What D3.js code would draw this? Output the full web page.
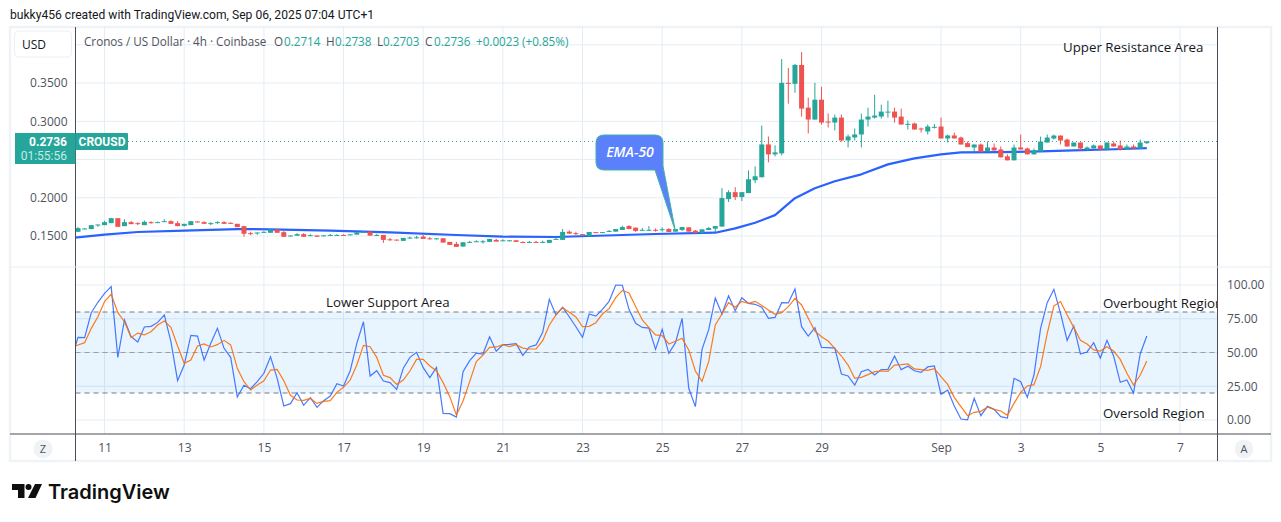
<!DOCTYPE html>
<html>
<head>
<meta charset="utf-8">
<script src="https://cdn.jsdelivr.net/npm/d3@7"></script>
<style>
  html, body { margin: 0; background: #fff; }
  svg { display: block; }
</style>
</head>
<body>
<svg id="chart" width="1281" height="522" font-family="'Open Sans', Roboto, sans-serif"></svg>
<script>
// candles, 4h bars, first one is 10 Aug
const candleOpen = [.1555,.1594,.1590,.1646,.1642,.1668,.1733,.1629,.1681,.1668,
  .1642,.1681,.1672,.1685,.1694,.1668,.1633,.1642,.1690,.1681,
  .1659,.1672,.1681,.1672,.1659,.1629,.1537,.1542,.1550,.1542,
  .1585,.1550,.1503,.1503,.1524,.1507,.1507,.1505,.1510,.1510,
  .1514,.1518,.1518,.1553,.1557,.1510,.1514,.1457,.1453,.1436,
  .1475,.1479,.1492,.1470,.1466,.1470,.1423,.1397,.1362,.1419,
  .1427,.1427,.1423,.1449,.1440,.1440,.1444,.1421,.1419,.1423,
  .1419,.1410,.1459,.1449,.1557,.1537,.1524,.1496,.1551,.1548,
  .1562,.1557,.1579,.1630,.1609,.1577,.1577,.1581,.1585,.1591,
  .1557,.1579,.1613,.1570,.1540,.1579,.1596,.1623,.1982,.2073,
  .2009,.2061,.2229,.2268,.2697,.2567,.2580,.3502,.3489,.3736,
  .3178,.3022,.3282,.2996,.2983,.3048,.2749,.2788,.2827,.3022,
  .3048,.3061,.3122,.3126,.3061,.2963,.2970,.2905,.2866,.2922,
  .2931,.2775,.2814,.2787,.2714,.2657,.2696,.2605,.2657,.2631,
  .2541,.2489,.2657,.2644,.2567,.2605,.2722,.2774,.2813,.2761,
  .2670,.2722,.2631,.2644,.2683,.2631,.2709,.2683,.2631,.2670,
  .2644,.2714];
const candleHigh = [.1616,.1603,.1642,.1650,.1698,.1733,.1733,.1720,.1698,.1681,
  .1703,.1694,.1690,.1720,.1707,.1694,.1659,.1694,.1690,.1694,
  .1681,.1694,.1694,.1681,.1659,.1629,.1555,.1546,.1563,.1585,
  .1585,.1568,.1507,.1537,.1537,.1524,.1507,.1509,.1527,.1522,
  .1522,.1522,.1548,.1562,.1557,.1527,.1514,.1474,.1453,.1475,
  .1492,.1501,.1514,.1488,.1470,.1470,.1423,.1423,.1418,.1436,
  .1444,.1449,.1462,.1462,.1457,.1444,.1444,.1431,.1436,.1436,
  .1440,.1449,.1483,.1592,.1574,.1557,.1524,.1553,.1551,.1551,
  .1579,.1591,.1635,.1643,.1609,.1604,.1630,.1600,.1613,.1604,
  .1591,.1617,.1613,.1579,.1587,.1617,.1630,.2125,.2099,.2138,
  .2073,.2359,.2411,.2944,.2801,.2684,.3814,.3697,.3749,.3905,
  .3308,.3502,.3450,.3100,.3087,.3087,.2827,.2905,.3100,.3178,
  .3347,.3217,.3269,.3178,.3165,.3009,.2983,.2918,.2957,.2965,
  .3048,.2827,.2853,.2800,.2735,.2696,.2709,.2735,.2709,.2670,
  .2567,.2696,.2826,.2657,.2644,.2800,.2826,.2826,.2813,.2774,
  .2722,.2722,.2670,.2696,.2683,.2722,.2735,.2748,.2696,.2696,
  .2761,.2738];
const candleLow = [.1555,.1590,.1590,.1620,.1642,.1668,.1620,.1629,.1655,.1642,
  .1642,.1659,.1672,.1685,.1659,.1629,.1624,.1642,.1686,.1659,
  .1642,.1659,.1659,.1659,.1616,.1490,.1511,.1516,.1546,.1542,
  .1542,.1490,.1494,.1503,.1490,.1498,.1490,.1500,.1501,.1501,
  .1501,.1518,.1518,.1553,.1505,.1501,.1410,.1436,.1440,.1436,
  .1466,.1466,.1462,.1453,.1453,.1414,.1384,.1358,.1362,.1414,
  .1423,.1401,.1423,.1427,.1431,.1440,.1423,.1410,.1410,.1410,
  .1410,.1410,.1453,.1449,.1531,.1514,.1520,.1496,.1548,.1548,
  .1557,.1557,.1579,.1591,.1553,.1566,.1566,.1557,.1557,.1553,
  .1557,.1566,.1557,.1540,.1531,.1579,.1548,.1623,.1944,.1970,
  .1957,.2061,.2190,.2268,.2463,.2541,.2554,.3230,.3373,.3061,
  .2840,.3022,.2957,.2918,.2879,.2736,.2658,.2749,.2658,.2931,
  .3035,.3035,.3048,.2983,.2957,.2892,.2892,.2853,.2827,.2905,
  .2775,.2723,.2775,.2696,.2662,.2597,.2597,.2605,.2618,.2528,
  .2489,.2489,.2631,.2567,.2567,.2605,.2722,.2761,.2696,.2670,
  .2670,.2618,.2618,.2644,.2631,.2618,.2670,.2618,.2631,.2644,
  .2644,.2703];
const candleClose = [.1603,.1598,.1642,.1650,.1681,.1733,.1620,.1681,.1655,.1659,
  .1685,.1672,.1681,.1694,.1659,.1629,.1659,.1694,.1686,.1659,
  .1668,.1681,.1659,.1659,.1616,.1529,.1533,.1546,.1554,.1585,
  .1542,.1490,.1507,.1524,.1490,.1511,.1490,.1509,.1514,.1514,
  .1510,.1522,.1548,.1557,.1505,.1514,.1449,.1453,.1449,.1475,
  .1479,.1483,.1462,.1466,.1470,.1414,.1384,.1358,.1418,.1423,
  .1431,.1431,.1462,.1427,.1444,.1444,.1423,.1418,.1423,.1419,
  .1423,.1449,.1462,.1553,.1531,.1533,.1520,.1553,.1548,.1551,
  .1566,.1591,.1617,.1591,.1566,.1581,.1581,.1577,.1589,.1553,
  .1591,.1617,.1557,.1540,.1587,.1604,.1630,.1996,.2073,.2009,
  .2073,.2242,.2281,.2697,.2567,.2593,.3502,.3494,.3736,.3165,
  .3022,.3282,.2983,.2987,.3048,.2749,.2801,.2827,.3022,.3061,
  .3074,.3126,.3126,.3048,.2957,.2966,.2892,.2896,.2931,.2927,
  .2775,.2814,.2775,.2696,.2662,.2696,.2597,.2657,.2618,.2528,
  .2489,.2657,.2631,.2567,.2618,.2735,.2787,.2813,.2748,.2670,
  .2722,.2644,.2657,.2683,.2631,.2722,.2670,.2631,.2670,.2644,
  .2722,.2736];

// EMA-50 read at these bar numbers only
const emaBars = [-1,4,9,16,24,29,38,47,57,64,72,77,87,96,99,102,105,108,111,114,118,122,126,130,133,139,145,150,155,161];
const emaValues = [.1475,.1517,.1552,.1569,.1591,.1587,.1569,.1548,.1513,.1491,.1487,.1500,.1526,.1543,.1600,.1673,.1773,.1994,.2124,.2215,.2306,.2436,.2514,.2566,.2592,.2596,.2605,.2618,.2631,.2648];

// RSI and its MA, one value per bar, first value is the bar before the left edge
const rsiValues = [45.2,61.2,61.0,79.5,87.2,93.8,98.8,46.4,74.1,61.7,57.8,68.9,69.4,72.3,77.8,58.0,29.1,40.7,62.7,62.2,
  44.4,56.8,67.9,53.1,46.4,17.0,25.7,23.2,28.4,34.6,46.9,30.9,10.4,12.1,20.2,10.9,16.5,9.4,14.3,17.8,
  26.9,25.2,36.5,56.8,72.8,32.6,36.5,28.9,27.7,22.7,38.3,46.4,50.1,38.8,31.4,39.0,4.9,4.7,2.2,35.8,
  44.0,49.6,48.9,61.7,50.9,55.8,56.0,56.5,47.9,54.1,55.6,64.9,89.4,77.8,83.5,76.5,69.1,61.2,78.5,77.0,
  82.0,87.9,100.0,99.8,82.0,71.6,68.6,68.1,52.3,67.2,49.4,57.3,75.3,23.5,9.9,52.3,66.7,90.4,78.5,91.9,
  81.0,90.6,86.4,85.7,83.5,75.3,76.0,86.9,86.7,97.0,69.1,62.2,68.4,53.8,53.6,53.3,34.1,32.6,25.9,35.8,
  37.5,33.3,37.3,37.5,47.4,37.3,39.8,36.5,35.3,39.3,40.0,19.0,22.2,10.4,0.7,0.2,16.0,3.2,10.1,7.9,
  2.5,1.5,30.9,28.4,16.8,33.3,67.9,86.9,96.8,79.0,59.0,69.6,48.9,50.4,57.3,45.9,59.0,47.4,27.9,29.6,
  20.0,48.9,62.2];
const rsiMaValues = [53.6,55.6,57.3,67.9,76.5,87.7,93.3,79.5,72.8,61.0,64.4,63.0,65.4,70.4,73.3,68.6,54.8,42.0,44.4,54.8,
  56.3,54.1,55.8,59.0,55.6,38.3,28.4,22.2,25.9,29.1,37.0,37.5,29.1,18.3,14.8,14.6,16.0,12.3,13.8,14.3,
  20.5,24.2,29.6,40.7,55.3,54.3,46.4,33.1,31.4,26.4,29.6,36.3,44.9,44.9,40.0,36.5,27.7,17.3,3.7,14.1,
  28.4,43.2,48.1,53.8,54.1,55.8,54.3,55.8,53.3,52.6,52.6,58.8,70.4,77.8,83.2,79.8,76.3,69.1,69.4,72.1,
  78.5,82.5,90.6,96.0,94.1,84.0,74.1,68.4,63.0,62.5,56.3,58.3,60.5,51.9,36.3,28.6,43.2,70.4,78.5,86.9,
  83.5,87.9,86.4,87.9,84.9,81.5,78.3,79.5,84.0,90.1,85.2,75.3,65.9,61.7,58.5,53.1,47.4,40.7,30.9,31.6,
  33.6,35.8,36.3,36.0,40.7,41.0,41.5,37.8,37.3,36.8,38.0,32.1,26.4,16.8,9.9,3.2,5.7,6.4,9.6,7.9,
  6.7,3.5,12.3,20.5,25.2,26.2,39.5,64.2,84.4,87.7,77.8,68.6,59.0,56.3,51.9,51.1,54.3,51.1,44.9,34.6,
  25.9,33.1,43.7];

// ticks
const dateBars = [4,16,28,40,52,64,76,88,100,112,130,142,154,166];
const dateLabels = ['11','13','15','17','19','21','23','25','27','29','Sep','3','5','7'];
const priceTicks = [0.15,0.20,0.30,0.35];
const priceGrid = [0.15,0.20,0.25,0.30,0.35,0.40];
const rsiTicks = [0,25,50,75,100];
const rsiLevels = [20,50,80];
const lastPrice = 0.2736;
const calloutBar = 90;
const calloutPrice = 0.1560;

const green = '#26a69a';
const red = '#ef5350';
const gridColour = '#e4edf3';
const axisColour = '#4a4d57';
const labelColour = '#50535e';

const plot = { left: 75.5, right: 1217.5, top: 27, split: 267, bottom: 434, frameLeft: 10, frameRight: 1271, frameBottom: 461 };

const svg = d3.select('#chart');

const xScale = d3.scaleLinear().domain([0, 166]).range([78, 1180]);
const yPrice = d3.scaleLinear().domain([0.15, 0.35]).range([236, 83]);
const yRsi = d3.scaleLinear().domain([0, 100]).range([420, 285]);

svg.append('text')
  .attr('x', 10).attr('y', 19)
  .attr('font-family', 'Roboto, sans-serif')
  .attr('font-size', 12.1).attr('fill', '#131722')
  .text('bukky456 created with TradingView.com, Sep 06, 2025 07:04 UTC+1');

// outer frame
svg.append('rect')
  .attr('x', plot.frameLeft).attr('y', plot.top)
  .attr('width', plot.frameRight - plot.frameLeft).attr('height', plot.frameBottom - plot.top)
  .attr('fill', '#fff').attr('stroke', '#f0f3f5').attr('stroke-width', 2.5);

svg.append('clipPath').attr('id', 'plotClip').append('rect')
  .attr('x', plot.left).attr('y', plot.top)
  .attr('width', plot.right - plot.left).attr('height', plot.bottom - plot.top);

const chart = svg.append('g').attr('clip-path', 'url(#plotClip)');

// grid
chart.selectAll('.grid-x').data(dateBars).enter().append('line')
  .attr('x1', d => xScale(d)).attr('x2', d => xScale(d))
  .attr('y1', plot.top).attr('y2', plot.bottom)
  .attr('stroke', gridColour);
chart.selectAll('.grid-price').data(priceGrid).enter().append('line')
  .attr('x1', plot.left).attr('x2', plot.right)
  .attr('y1', d => yPrice(d)).attr('y2', d => yPrice(d))
  .attr('stroke', gridColour);
chart.selectAll('.grid-rsi').data(rsiTicks).enter().append('line')
  .attr('x1', plot.left).attr('x2', plot.right)
  .attr('y1', d => yRsi(d)).attr('y2', d => yRsi(d))
  .attr('stroke', gridColour);

// last price line
chart.append('line')
  .attr('x1', 128).attr('x2', plot.right)
  .attr('y1', yPrice(lastPrice)).attr('y2', yPrice(lastPrice))
  .attr('stroke', green).attr('stroke-dasharray', '1,3');

// ema goes under the candles
const emaLine = d3.line()
  .x((d, i) => xScale(emaBars[i]))
  .y(d => yPrice(d));
chart.append('path')
  .attr('d', emaLine(emaValues))
  .attr('fill', 'none').attr('stroke', '#2962ff').attr('stroke-width', 2.2).attr('stroke-linejoin', 'round');

const candles = chart.append('g').selectAll('g').data(candleOpen).enter().append('g')
  .attr('fill', (d, i) => candleClose[i] >= d ? green : red);
candles.append('rect')
  .attr('x', (d, i) => xScale(i) - 0.5).attr('width', 1)
  .attr('y', (d, i) => yPrice(candleHigh[i]))
  .attr('height', (d, i) => Math.max(1, yPrice(candleLow[i]) - yPrice(candleHigh[i])));
candles.append('rect')
  .attr('x', (d, i) => xScale(i) - 2.5).attr('width', 5)
  .attr('y', (d, i) => yPrice(Math.max(d, candleClose[i])))
  .attr('height', (d, i) => Math.max(1, Math.abs(yPrice(d) - yPrice(candleClose[i]))));

// rsi pane
chart.append('rect')
  .attr('x', plot.left).attr('width', plot.right - plot.left)
  .attr('y', yRsi(80)).attr('height', yRsi(20) - yRsi(80))
  .attr('fill', '#2196f3').attr('fill-opacity', 0.1);
chart.selectAll('.rsi-level').data(rsiLevels).enter().append('line')
  .attr('x1', plot.left).attr('x2', plot.right)
  .attr('y1', d => yRsi(d)).attr('y2', d => yRsi(d))
  .attr('stroke', d => d === 50 ? '#9a9da6' : '#787b86').attr('stroke-dasharray', '5,4');

const rsiLine = d3.line()
  .x((d, i) => xScale(i - 1))
  .y(d => yRsi(d));
chart.append('path').attr('d', rsiLine(rsiValues))
  .attr('fill', 'none').attr('stroke', '#2962ff').attr('stroke-opacity', 0.85).attr('stroke-width', 1.2);
chart.append('path').attr('d', rsiLine(rsiMaValues))
  .attr('fill', 'none').attr('stroke', '#ff6d00').attr('stroke-opacity', 0.9).attr('stroke-width', 1.2);

// annotations
const notes = [
  ['Upper Resistance Area', 1063, 52],
  ['Lower Support Area', 326, 307],
  ['Overbought Region', 1103, 308],
  ['Oversold Region', 1103, 418]
];
chart.selectAll('.note').data(notes).enter().append('text')
  .attr('x', d => d[1]).attr('y', d => d[2])
  .attr('font-size', 13.3).attr('fill', '#131722')
  .text(d => d[0]);

// callout
const tipX = xScale(calloutBar);
const tipY = yPrice(calloutPrice);
svg.append('path')
  .attr('d', `M604,135 H655 Q663,135 663,143 V166 L${tipX},${tipY} L655,170 H604 Q596,170 596,162 V143 Q596,135 604,135 Z`)
  .attr('fill', '#5b80fb').attr('stroke', '#3fb5a3').attr('stroke-width', 1);
svg.append('text')
  .attr('x', 630).attr('y', 157)
  .attr('text-anchor', 'middle').attr('font-size', 14).attr('font-style', 'italic').attr('font-weight', 600)
  .attr('fill', '#fff').text('EMA-50');

// axes
const priceAxis = d3.axisLeft(yPrice).tickValues(priceTicks).tickFormat(d3.format('.4f')).tickSize(0).tickPadding(0);
const rsiAxis = d3.axisRight(yRsi).tickValues(rsiTicks).tickFormat(d3.format('.2f')).tickSize(0).tickPadding(0);
const dateAxis = d3.axisBottom(xScale).tickValues(dateBars).tickFormat((d, i) => dateLabels[i]).tickSize(0).tickPadding(9);

[svg.append('g').attr('transform', 'translate(67.5,0)').call(priceAxis),
 svg.append('g').attr('transform', 'translate(1227,0)').call(rsiAxis),
 svg.append('g').attr('transform', `translate(0,${plot.bottom})`).call(dateAxis)]
  .forEach(g => {
    g.select('.domain').remove();
    g.selectAll('text').attr('font-size', 12).attr('fill', labelColour)
      .attr('font-family', '"Open Sans", Roboto, sans-serif');
  });

// pane borders
svg.append('line').attr('x1', plot.left).attr('x2', plot.left).attr('y1', plot.top).attr('y2', plot.frameBottom).attr('stroke', axisColour);
svg.append('line').attr('x1', plot.right).attr('x2', plot.right).attr('y1', plot.top).attr('y2', plot.frameBottom).attr('stroke', axisColour);
svg.append('line').attr('x1', plot.frameLeft).attr('x2', plot.frameRight).attr('y1', plot.bottom).attr('y2', plot.bottom).attr('stroke', axisColour);
svg.append('line').attr('x1', plot.frameLeft).attr('x2', plot.frameRight).attr('y1', plot.split).attr('y2', plot.split).attr('stroke', '#e8ecf0');

// usd button
svg.append('rect').attr('x', 14.5).attr('y', 31).attr('width', 57).attr('height', 26).attr('rx', 4)
  .attr('fill', '#fff').attr('stroke', '#eceef2');
svg.append('text').attr('x', 34).attr('y', 49).attr('text-anchor', 'middle')
  .attr('font-size', 12).attr('fill', '#131722').text('USD');

// price tags
svg.append('rect').attr('x', 15).attr('y', 133).attr('width', 60.5).attr('height', 31).attr('fill', green);
svg.append('text').attr('x', 67).attr('y', 145.5).attr('text-anchor', 'end')
  .attr('font-family', 'Roboto, sans-serif')
  .attr('font-size', 12).attr('font-weight', 700).attr('fill', '#fff').text(d3.format('.4f')(lastPrice));
svg.append('text').attr('x', 67).attr('y', 160).attr('text-anchor', 'end')
  .attr('font-family', 'Roboto, sans-serif')
  .attr('font-size', 12).attr('fill', '#c5eae6').text('01:55:56');
svg.append('rect').attr('x', 75.5).attr('y', 133).attr('width', 52.5).attr('height', 17).attr('rx', 1).attr('fill', green);
svg.append('text').attr('x', 102).attr('y', 146).attr('text-anchor', 'middle')
  .attr('font-family', 'Roboto, sans-serif')
  .attr('font-size', 12).attr('font-weight', 700).attr('fill', '#fff').text('CROUSD');

// legend row
const legend = svg.append('text').attr('y', 46).attr('font-size', 11.7);
[['Cronos / US Dollar · 4h · Coinbase', labelColour, 84],
 ['O', labelColour, 274], ['0.2714', green, 284],
 ['H', labelColour, 326], ['0.2738', green, 335],
 ['L', labelColour, 377], ['0.2703', green, 383],
 ['C', labelColour, 425], ['0.2736', green, 434],
 ['+0.0023', green, 476], ['(+0.85%)', green, 522]].forEach(d => {
  legend.append('tspan').attr('x', d[2]).attr('fill', d[1]).text(d[0]);
});

// z and a buttons
[['Z', 43], ['A', 1244]].forEach(d => {
  svg.append('circle').attr('cx', d[1]).attr('cy', 449).attr('r', 9.5).attr('fill', '#f0f3f5');
  svg.append('text').attr('x', d[1]).attr('y', 453).attr('text-anchor', 'middle')
    .attr('font-size', 11).attr('fill', labelColour).text(d[0]);
});

// logo
const logo = svg.append('g').attr('fill', '#0f0f0f');
logo.append('path').attr('d', 'M12,484 H24.5 V498 H18 V490 H12 Z');
logo.append('circle').attr('cx', 28.5).attr('cy', 487).attr('r', 3);
logo.append('path').attr('d', 'M35,484 H42 L35.5,498 H28 Z');
svg.append('text').attr('x', 48).attr('y', 499)
  .attr('font-family', 'Inter, Roboto, sans-serif').attr('font-size', 20).attr('font-weight', 600)
  .attr('fill', '#0f0f0f').text('TradingView');
</script>
</body>
</html>
